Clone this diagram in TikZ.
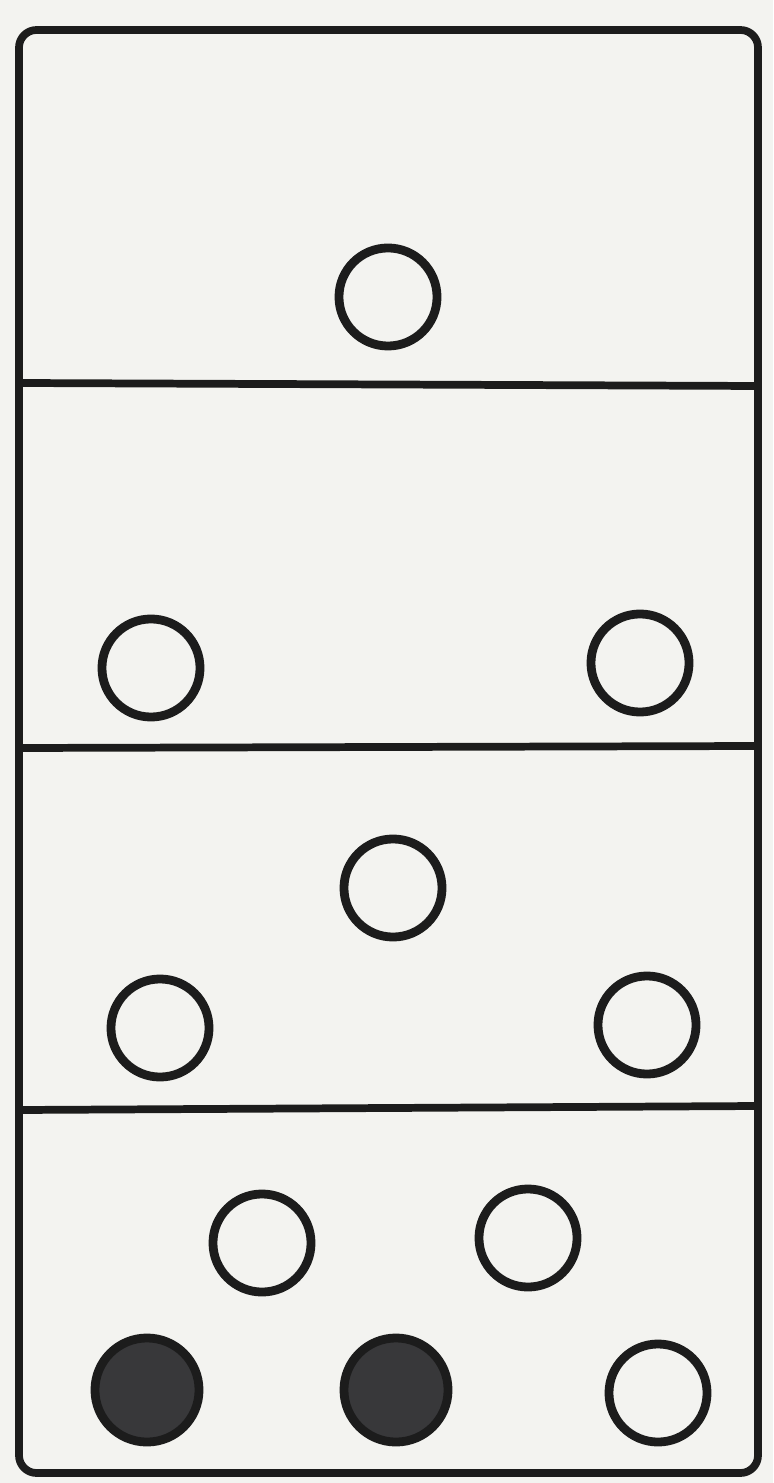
\documentclass[tikz,border=0pt]{standalone}
\usepackage{xcolor}
\usepackage{tikz}
\usetikzlibrary{positioning, calc}
\definecolor{paper}{HTML}{F3F3F0}
\definecolor{ink}{HTML}{1C1C1C}
\definecolor{dotfill}{HTML}{38383A}

\begin{document}
\begin{tikzpicture}[x=0.01cm, y=-0.01cm, line width=2.2pt,
    hole/.style={circle, draw=ink, line width=2.5pt, minimum size=0.98cm, inner sep=0pt},
    fullhole/.style={hole, fill=dotfill, minimum size=1.04cm}]
  \fill[paper] (0,0) rectangle (773,1483);
  \useasboundingbox (0,0) rectangle (773,1483);
  \draw[ink, rounded corners=5pt] (19,30) rectangle (758,1473);
  % dividers
  \draw[ink] (19,383) -- (758,386);
  \draw[ink] (19,748) -- (758,746);
  \draw[ink] (19,1110) -- (758,1106);
  % one
  \node[hole] (a1) at (388,297) {};
  % two
  \node[hole] (b1) at (151,668) {};
  \node[hole] (b2) at (640,663) {};
  % three
  \node[hole] (c1) at (393,888) {};
  \node[hole] (c2) at (160,1028) {};
  \node[hole] (c3) at (647,1025) {};
  % four
  \node[hole] (d1) at (262,1243) {};
  \node[hole] (d2) at (528,1238) {};
  \node[fullhole] (d3) at (147,1390) {};
  \node[fullhole] (d4) at (396,1390) {};
  \node[hole] (d5) at (658,1393) {};
\end{tikzpicture}
\end{document}
